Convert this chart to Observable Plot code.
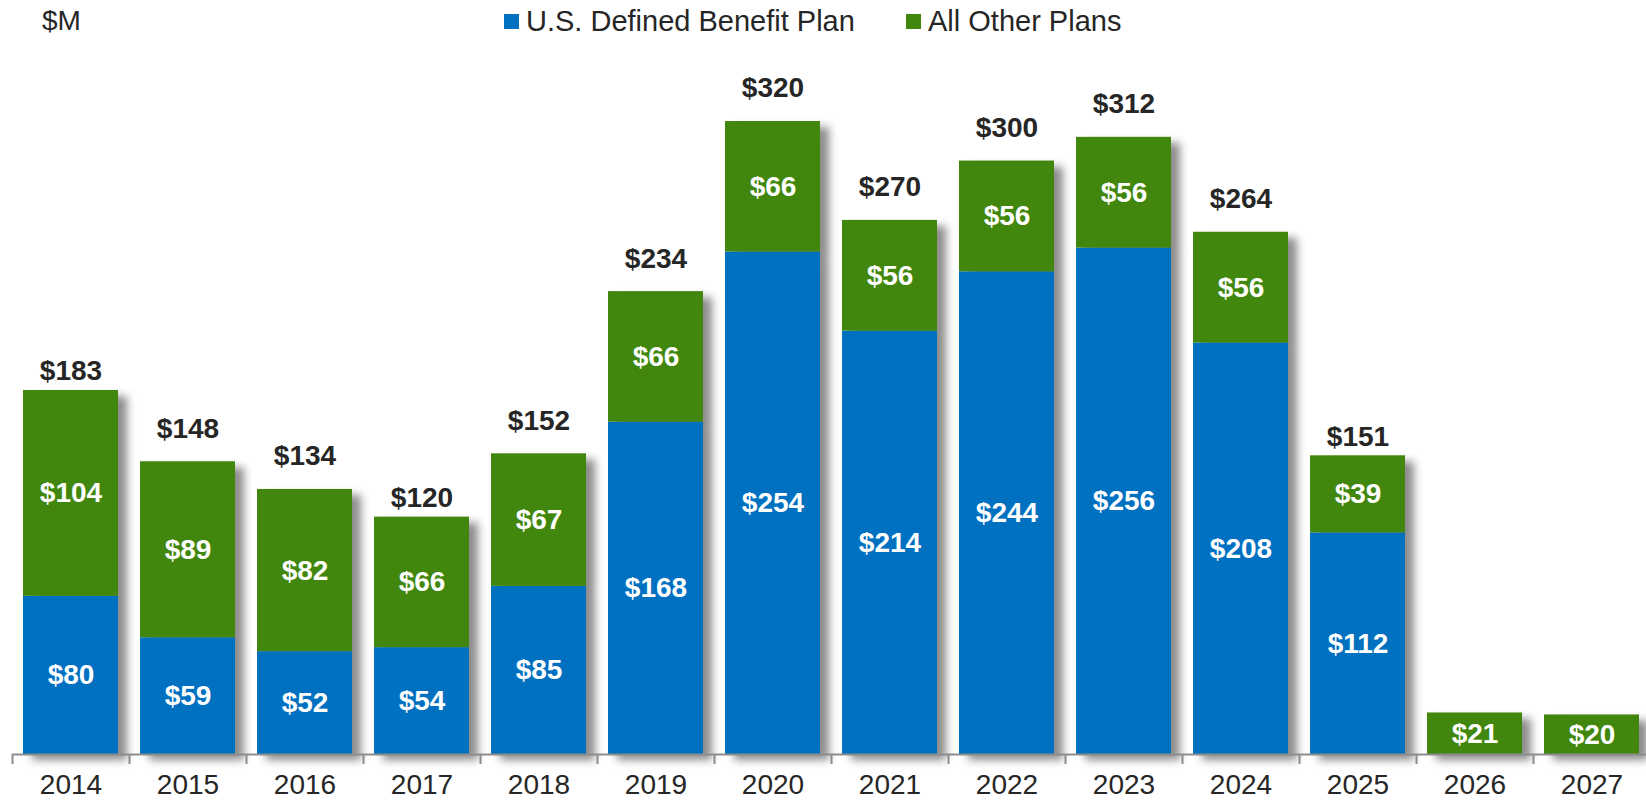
<!DOCTYPE html>
<html>
<head>
<meta charset="utf-8">
<script src="https://cdn.jsdelivr.net/npm/d3@7"></script>
<script src="https://cdn.jsdelivr.net/npm/@observablehq/plot@0.6"></script>
<style>
  html, body { margin: 0; padding: 0; background: #fff; overflow: hidden; }
  body { width: 1646px; height: 803px; position: relative; font-family: "Liberation Sans", Arial, sans-serif; color: #262626; }
  #chart { position: absolute; left: 0; top: 0; }
  #unit { position: absolute; left: 42px; top: 4px; font-size: 28px; line-height: 34px; }
  .leg { position: absolute; top: 4px; font-size: 29px; line-height: 34px; display: flex; align-items: center; }
  .sw { width: 15px; height: 15px; display: inline-block; margin-right: 7px; }
  g[aria-label="bar"] { filter: drop-shadow(9px 6px 4px rgba(0,0,0,0.45)); }
</style>
</head>
<body>
<div id="chart"></div>
<div id="unit">$M</div>
<div class="leg" style="left:504px"><span class="sw" style="background:#0070c0"></span>U.S. Defined Benefit Plan</div>
<div class="leg" style="left:906px"><span class="sw" style="background:#41870d"></span>All Other Plans</div>
<script>
const years = ["2014","2015","2016","2017","2018","2019","2020","2021","2022","2023","2024","2025","2026","2027"];
const usDefinedBenefit = [80, 59, 52, 54, 85, 168, 254, 214, 244, 256, 208, 112, 0, 0];
const allOtherPlans = [104, 89, 82, 66, 67, 66, 66, 56, 56, 56, 56, 39, 21, 20];
const totalLabels = [183, 148, 134, 120, 152, 234, 320, 270, 300, 312, 264, 151, null, null];
const seriesNames = ["U.S. Defined Benefit Plan", "All Other Plans"];
const seriesColors = ["#0070c0", "#41870d"];

const rows = [];
years.forEach((yr, i) => rows.push({year: yr, series: seriesNames[0], value: usDefinedBenefit[i]}));
years.forEach((yr, i) => rows.push({year: yr, series: seriesNames[1], value: allOtherPlans[i]}));
const totals = years.map((yr, i) => ({year: yr, total: usDefinedBenefit[i] + allOtherPlans[i], label: totalLabels[i]}))
  .filter(d => d.label != null);

// years whose total label sits closer to the bar top in the original
const closeLabelYears = new Set(["2014", "2017", "2025"]);

const W = 1646, H = 803, mL = 12, mR = -4;
const bw = (W - mL - mR) / years.length;
const totalStyle = {x: "year", y: "total", text: d => "$" + d.label, fill: "#262626", fontSize: 28, fontWeight: "bold"};

const chart = Plot.plot({
  width: W,
  height: H,
  marginLeft: mL,
  marginRight: mR,
  marginTop: 121,
  marginBottom: 49,
  style: {fontFamily: "'Liberation Sans', Arial, sans-serif", background: "transparent", overflow: "visible"},
  x: {domain: years, padding: 0, label: null},
  y: {domain: [0, 320], axis: null},
  color: {domain: seriesNames, range: seriesColors},
  marks: [
    Plot.barY(rows, Plot.stackY({x: "year", y: "value", fill: "series", order: null, insetLeft: 11, insetRight: 11})),
    Plot.ruleY([0], {stroke: "#8c8c8c", strokeWidth: 2}),
    Plot.axisX({tickSize: 10, dx: -bw / 2, tickFormat: () => "", stroke: "#8c8c8c", strokeWidth: 2, label: null}),
    Plot.axisX({tickSize: 0, tickPadding: 20, fontSize: 28, fill: "#262626", label: null}),
    Plot.text(rows, Plot.stackY({x: "year", y: "value", z: "series", order: null, text: d => d.value > 0 ? "$" + d.value : "", fill: "white", fontSize: 28, fontWeight: "bold"})),
    Plot.text(totals.filter(d => !closeLabelYears.has(d.year)), {...totalStyle, dy: -33}),
    Plot.text(totals.filter(d => closeLabelYears.has(d.year)), {...totalStyle, dy: -19})
  ]
});
document.getElementById("chart").appendChild(chart);
</script>
</body>
</html>
